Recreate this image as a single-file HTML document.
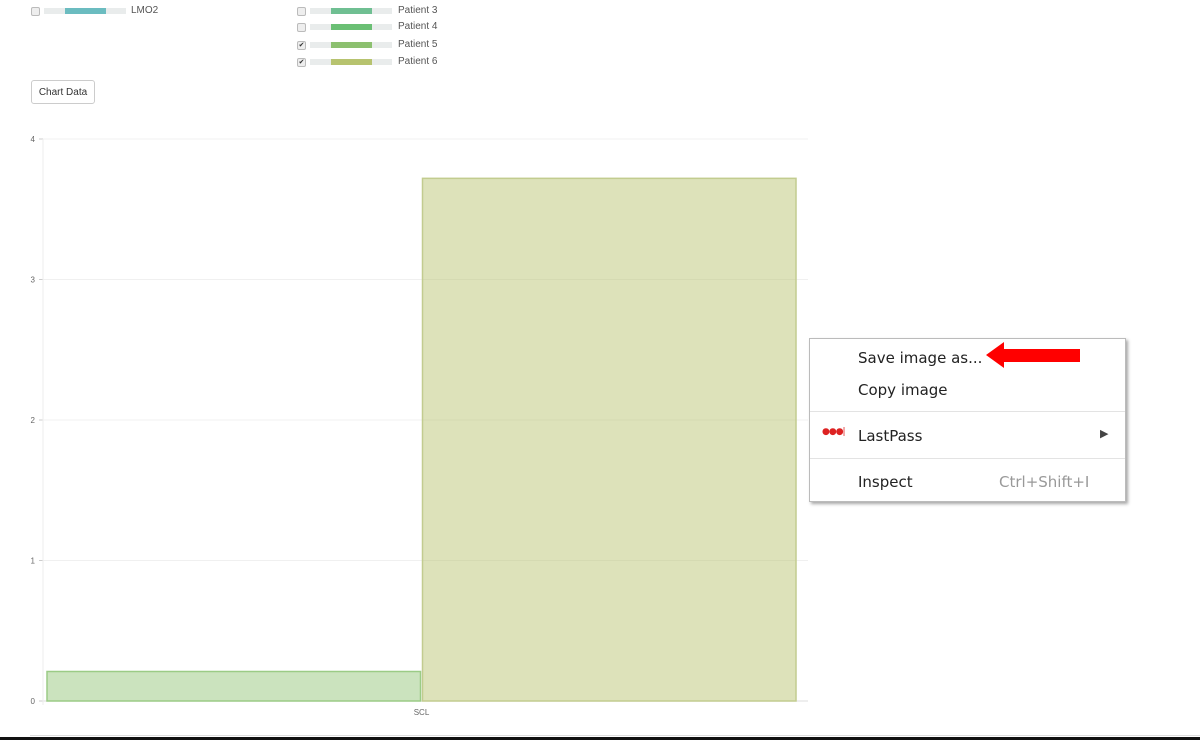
<!DOCTYPE html>
<html><head><meta charset="utf-8">
<style>
body{margin:0;width:1200px;height:740px;background:#fff;font-family:"Liberation Sans",sans-serif;position:relative;overflow:hidden}
.leg{position:absolute;font-size:10px;color:#555;height:12px;line-height:12px}
.cb{position:absolute;width:7px;height:7px;border:1px solid #bbb;border-radius:2px;background:#eee;font-size:7px;line-height:7px;text-align:center;color:#333}
.sw{position:absolute;width:82px;height:6px;background:#e9ecec}
.sw i{position:absolute;left:21px;width:41px;height:6px}
.lbl{position:absolute}
#btn{position:absolute;left:31px;top:80px;width:62px;height:22px;border:1px solid #ccc;border-radius:3px;font-size:10px;color:#333;line-height:24px;text-align:center}
#menu{position:absolute;left:809px;top:338px;width:315px;height:162px;background:#fff;border:1px solid #bbb;box-shadow:2px 2px 3px rgba(0,0,0,.35);font-family:"DejaVu Sans","Liberation Sans",sans-serif;font-size:15px;color:#222}
#menu div{position:absolute}
.sep{left:0;width:315px;height:1px;background:#e3e3e3}
</style></head><body>
<div class="leg" style="left:31px;top:6px"><span class="cb" style="left:0;top:1px"></span><span class="sw" style="left:13px;top:2px"><i style="background:#6bbcc0"></i></span><span class="lbl" style="left:100px;top:-1px">LMO2</span></div>
<div class="leg" style="left:297px;top:6px"><span class="cb" style="left:0;top:1px"></span><span class="sw" style="left:13px;top:2px"><i style="background:#6fbf92"></i></span><span class="lbl" style="left:101px;top:-1px;width:60px">Patient 3</span></div>
<div class="leg" style="left:297px;top:22px"><span class="cb" style="left:0;top:1px"></span><span class="sw" style="left:13px;top:2px"><i style="background:#6abf74"></i></span><span class="lbl" style="left:101px;top:-1px;width:60px">Patient 4</span></div>
<div class="leg" style="left:297px;top:40px"><span class="cb" style="left:0;top:1px">✔</span><span class="sw" style="left:13px;top:2px"><i style="background:#8cc06f"></i></span><span class="lbl" style="left:101px;top:-1px;width:60px">Patient 5</span></div>
<div class="leg" style="left:297px;top:57px"><span class="cb" style="left:0;top:1px">✔</span><span class="sw" style="left:13px;top:2px"><i style="background:#b7c36f"></i></span><span class="lbl" style="left:101px;top:-1px;width:60px">Patient 6</span></div>
<div id="btn">Chart Data</div>
<svg id="chart" width="1200" height="740" style="position:absolute;left:0;top:0"></svg>
<div style="position:absolute;left:30px;top:735px;width:1170px;height:1px;background:#ddd"></div>
<div style="position:absolute;left:0;top:737px;width:1200px;height:3px;background:#111"></div>
<div id="menu">
<div style="left:48px;top:10px">Save image as...</div>
<div style="left:48px;top:42px">Copy image</div>
<div class="sep" style="top:72px"></div>
<div style="left:12px;top:88px;color:#d22;font-size:9px;letter-spacing:-1px">●●●|</div>
<div style="left:48px;top:88px">LastPass</div>
<div style="left:290px;top:88px;font-size:11px;color:#444">▶</div>
<div class="sep" style="top:119px"></div>
<div style="left:48px;top:134px">Inspect</div>
<div style="left:189px;top:134px;color:#999">Ctrl+Shift+I</div>
</div>
<svg width="100" height="30" style="position:absolute;left:984px;top:340px"><polygon points="2,15 20,2 20,9 96,9 96,22 20,22 20,28" fill="#f00"/></svg>
<script>
const categories=["SCL"];
const seriesNames=["Patient 5","Patient 6"];
const seriesValues=[0.21,3.72];
const yTicks=[0,1,2,3,4];
const fills=["rgba(140,192,111,0.45)","rgba(183,195,111,0.48)"];
const strokes=["#9bcb86","#c2cc8f"];
const svg=document.getElementById('chart');
const NS="http://www.w3.org/2000/svg";
const X0=43,X1=808,Y0=701,Y1=139,YMAX=4;
const y=v=>Y0-(v/YMAX)*(Y0-Y1);
function mk(t,a){const e=document.createElementNS(NS,t);for(const k in a)e.setAttribute(k,a[k]);svg.appendChild(e);return e;}
yTicks.forEach(t=>{
 const g=mk('line',{x1:X0,x2:X1,y1:y(t),y2:y(t),stroke:t===0?'#ddd':'#f0f0f0'});
 
 
 const tk=mk('line',{x1:X0-4,x2:X0,y1:y(t),y2:y(t),stroke:'#ccc'});
 
 
 const l=mk('text',{x:X0-8,y:y(t)+3,'font-size':8,fill:'#666','text-anchor':'end','font-family':'Liberation Sans, sans-serif'});
 l.textContent=t;
 
 
});
const ax=mk('line',{x1:X0,x2:X0,y1:Y1,y2:Y0+4,stroke:'#eee'});


const bandL=46,bandR=797;
const bw=(bandR-bandL)/categories.length;
categories.forEach((c,ci)=>{
 const cx=bandL+bw*ci+bw/2;
 const each=bw/seriesValues.length;
 seriesValues.forEach((v,si)=>{
  const x=bandL+bw*ci+each*si+1;
  const r=mk('rect',{x:x,y:y(v),width:each-2,height:Y0-y(v),fill:fills[si],stroke:strokes[si],'stroke-width':1.5});
  
  
 });
 const t=mk('text',{x:cx,y:Y0+14,'font-size':8,fill:'#666','text-anchor':'middle','font-family':'Liberation Sans, sans-serif'});
 t.textContent=c;
 
 
});
</script>
</body></html>
